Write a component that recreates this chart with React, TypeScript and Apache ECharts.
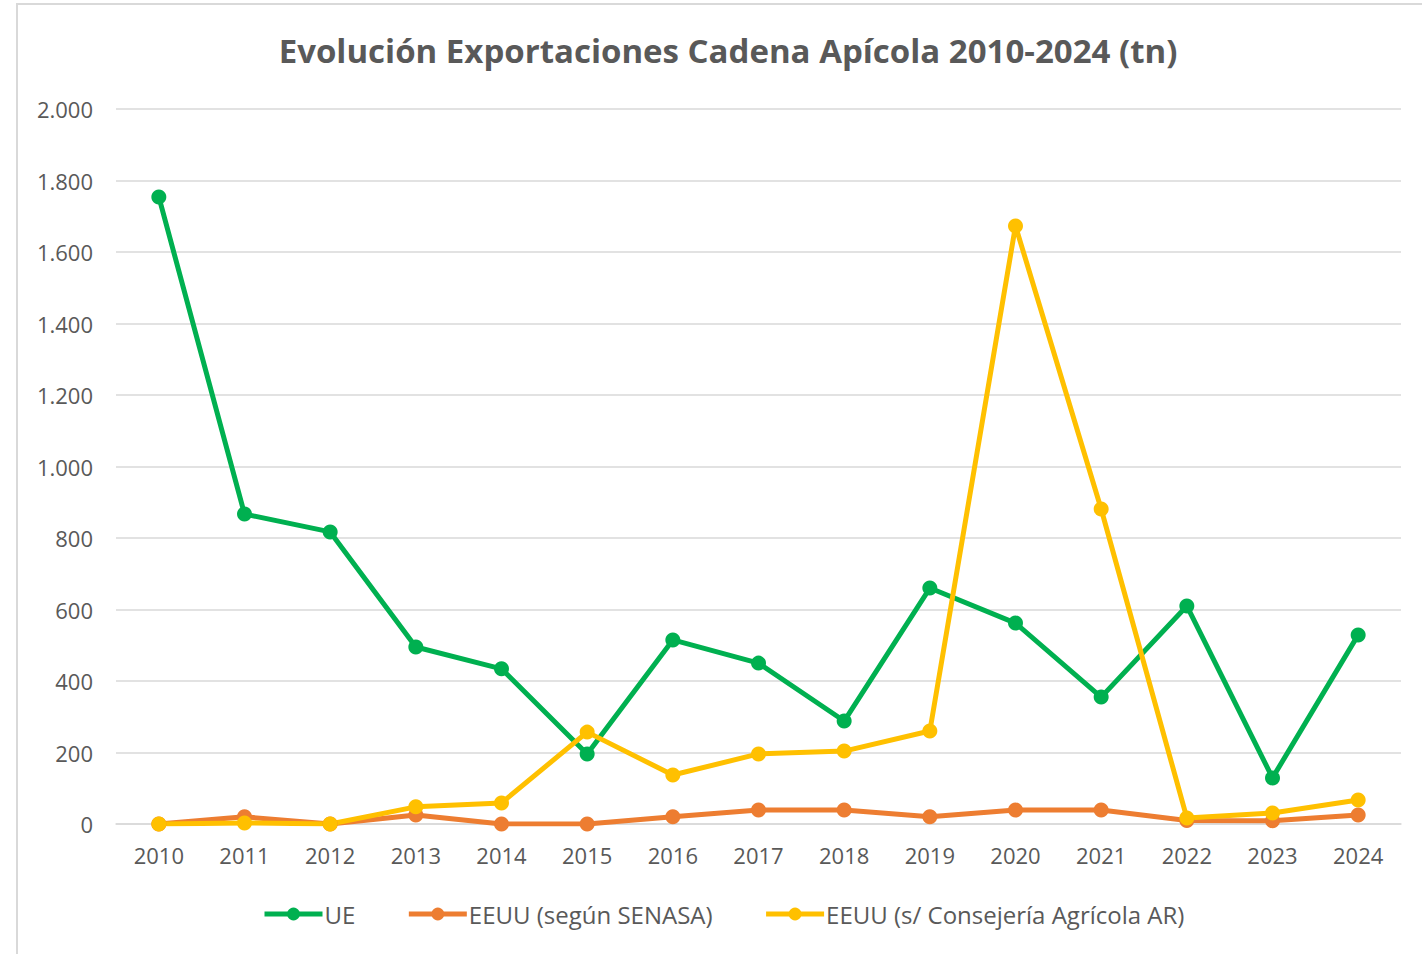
import React, { useEffect, useRef } from "react";
import * as echarts from "echarts";

const years = ["2010","2011","2012","2013","2014","2015","2016","2017","2018","2019","2020","2021","2022","2023","2024"];
const ue = [1754, 867, 817, 495, 434, 196, 515, 450, 288, 660, 562, 355, 610, 129, 529];
const eeuuSenasa = [0, 20, 0, 25, 0, 0, 20, 39, 39, 20, 39, 39, 10, 9, 25];
const eeuuConsejeria = [0, 3, 0, 48, 59, 257, 137, 196, 204, 260, 1673, 881, 17, 31, 67];

const textColor = "#595959";
const font = "'Open Sans', sans-serif";

export default function App() {
  const ref = useRef<HTMLDivElement>(null);
  useEffect(() => {
    if (!ref.current) return;
    const chart = echarts.init(ref.current, null, { renderer: "svg" });
    const mk = (name: string, data: number[], color: string) => ({
      name,
      type: "line",
      data,
      symbol: "circle",
      symbolSize: 15,
      lineStyle: { width: 5, color },
      itemStyle: { color },
      emphasis: { disabled: true },
    });
    chart.setOption({
      animation: false,
      backgroundColor: "#ffffff",
      title: {
        text: "Evolución Exportaciones Cadena Apícola 2010-2024 (tn)",
        left: 723,
        textAlign: "center",
        top: 29,
        textStyle: { fontFamily: font, fontWeight: "bold", fontSize: 33, color: textColor },
      },
      graphic: [
        {
          type: "rect",
          shape: { x: 17, y: 4, width: 1440, height: 980 },
          style: { fill: "none", stroke: "#d9d9d9", lineWidth: 2 },
          silent: true,
        },
      ],
      grid: { left: 116, right: 21, top: 109, bottom: 130 },
      legend: {
        top: 902,
        left: 262,
        padding: 0,
        orient: "horizontal",
        itemWidth: 58,
        itemHeight: 16,
        itemGap: 51,
        lineStyle: { width: 5 },
        textStyle: { fontFamily: font, fontSize: 24, color: textColor, padding: [0, 0, 0, -3] },
        data: ["UE", "EEUU (según SENASA)", "EEUU (s/ Consejería Agrícola AR)"],
      },
      xAxis: {
        type: "category",
        data: years,
        boundaryGap: true,
        axisLine: { show: true, lineStyle: { color: "#d9d9d9", width: 1.5 } },
        axisTick: { show: false },
        axisLabel: { fontFamily: font, fontSize: 22, color: textColor, margin: 20 },
      },
      yAxis: {
        type: "value",
        min: 0,
        max: 2000,
        interval: 200,
        axisLine: { show: false },
        axisTick: { show: false },
        splitLine: { lineStyle: { color: "#d9d9d9", width: 1.5 } },
        axisLabel: {
          fontFamily: font,
          fontSize: 22,
          color: textColor,
          margin: 23,
          formatter: (v: number) => v.toLocaleString("de-DE"),
        },
      },
      series: [
        mk("UE", ue, "#00B050"),
        mk("EEUU (según SENASA)", eeuuSenasa, "#ED7D31"),
        mk("EEUU (s/ Consejería Agrícola AR)", eeuuConsejeria, "#FFC000"),
      ],
    });
    return () => chart.dispose();
  }, []);
  return (
    <div
      ref={ref}
      style={{ position: "absolute", left: 0, top: 0, width: 1422, height: 954 }}
    />
  );
}
